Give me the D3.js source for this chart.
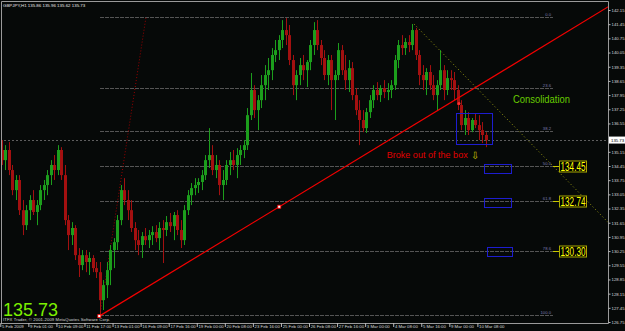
<!DOCTYPE html>
<html>
<head>
<meta charset="utf-8">
<script src="https://cdn.jsdelivr.net/npm/d3@7"></script>
<style>
  html, body { margin: 0; padding: 0; background: #060908; overflow: hidden; }
  text { font-family: "Liberation Sans", Arial, sans-serif; }
</style>
</head>
<body>
<script>
const BAR_HOURS = 4;
const opens = [
  135.24,134.74,135.24,134.25,133.26,133.76,132.27,131.53,132.27,132.77,
  132.18,132.52,133.26,133.51,134.00,134.50,134.25,135.24,134.00,131.78,
  131.04,131.39,130.05,129.56,130.05,129.71,129.91,129.41,129.21,127.83,
  128.57,129.31,130.30,130.69,131.78,133.26,132.77,132.27,131.39,130.79,
  130.55,130.99,130.79,131.04,131.19,130.89,131.39,131.29,131.68,131.48,
  132.03,131.29,130.79,132.27,133.01,133.36,133.51,133.66,134.00,134.74,
  134.99,134.25,134.50,133.51,133.76,134.50,134.74,134.50,134.99,135.24,
  135.48,136.96,138.20,137.21,137.70,138.44,138.94,139.18,139.93,140.17,
  140.67,141.16,140.91,139.68,138.44,138.94,139.43,139.18,139.58,140.42,
  141.16,140.42,139.78,138.94,139.68,138.69,138.94,140.17,139.18,138.69,
  139.28,137.95,137.21,136.72,136.32,137.11,137.70,138.20,137.95,138.30,
  138.10,138.20,138.44,139.68,140.42,140.27,140.57,140.42,141.16,139.93,
  138.94,138.69,139.09,138.44,137.95,138.44,139.18,138.20,138.79,138.69,
  138.20,137.46,136.47,136.82,136.22,136.72,136.47,136.22,135.98
];
const highs = [
  135.73,135.48,135.63,134.50,134.00,134.00,132.77,132.52,133.01,133.26,
  132.77,133.51,133.76,134.25,134.74,134.99,135.48,135.38,134.50,132.03,
  131.68,131.53,130.40,130.30,130.30,130.20,130.05,129.71,129.71,128.82,
  129.71,130.55,130.89,132.03,133.51,133.85,133.26,132.77,131.68,131.29,
  131.19,131.39,131.29,131.48,131.53,131.68,131.78,131.98,132.13,132.18,
  132.27,131.78,132.52,133.26,133.61,133.85,133.85,134.25,134.99,136.32,
  135.48,134.99,134.74,134.25,134.74,135.14,135.24,135.33,135.48,135.73,
  137.31,139.04,138.44,137.95,138.94,139.43,139.78,140.27,140.67,140.91,
  141.65,141.75,141.41,139.93,139.18,139.78,139.93,139.68,140.67,141.55,
  141.65,140.67,140.17,139.93,139.93,139.18,140.52,140.42,139.93,139.68,
  139.58,138.30,137.70,137.21,137.31,137.95,138.44,138.59,138.44,138.69,
  138.54,138.69,139.93,140.67,140.91,140.76,140.91,141.46,141.26,140.17,
  139.43,139.28,139.43,138.94,138.69,140.17,139.43,139.18,139.18,139.09,
  138.44,137.70,137.21,137.11,136.82,137.06,136.96,136.62,136.12
];
const lows = [
  134.50,134.25,134.00,133.01,132.77,132.03,131.04,131.29,131.78,132.03,
  131.53,132.27,132.77,133.01,133.51,133.76,134.00,133.76,131.53,130.30,
  130.55,129.81,128.97,129.31,129.21,129.07,129.21,128.92,127.14,127.34,
  127.93,128.57,129.41,130.30,131.53,132.52,131.78,131.19,130.30,130.05,
  129.91,130.55,130.40,130.55,130.69,130.30,129.66,130.99,131.19,130.79,
  131.04,130.40,130.55,132.03,132.52,133.01,133.12,133.26,133.76,134.35,
  134.00,133.85,133.01,132.77,133.51,134.00,134.25,133.85,134.50,134.84,
  135.24,136.72,136.82,136.22,137.31,137.70,138.20,138.69,139.58,139.68,
  140.27,140.42,139.43,137.95,137.70,138.44,138.69,138.35,139.18,139.93,
  140.17,139.43,138.69,138.44,137.21,136.72,138.69,138.94,138.20,138.10,
  137.70,136.96,135.48,136.12,136.08,136.82,137.31,137.70,137.61,137.80,
  137.70,137.80,138.20,139.28,139.93,139.93,140.07,140.17,139.68,138.44,
  138.20,137.95,138.20,137.70,137.21,138.20,137.70,137.95,138.20,137.70,
  137.21,136.22,135.98,135.98,136.12,136.32,135.73,135.58,135.38
];
const closes = [
  134.74,135.24,134.25,133.26,133.76,132.27,131.53,132.27,132.77,132.18,
  132.52,133.26,133.51,134.00,134.50,134.25,135.24,134.00,131.78,131.04,
  131.39,130.05,129.56,130.05,129.71,129.91,129.41,129.21,127.83,128.57,
  129.31,130.30,130.69,131.78,133.26,132.77,132.27,131.39,130.79,130.55,
  130.99,130.79,131.04,131.19,130.89,131.39,131.29,131.68,131.48,132.03,
  131.29,130.79,132.27,133.01,133.36,133.51,133.66,134.00,134.74,134.99,
  134.25,134.50,133.51,133.76,134.50,134.74,134.50,134.99,135.24,135.48,
  136.96,138.20,137.21,137.70,138.44,138.94,139.18,139.93,140.17,140.67,
  141.16,140.91,139.68,138.44,138.94,139.43,139.18,139.58,140.42,141.16,
  140.42,139.78,138.94,139.68,138.69,138.94,140.17,139.18,138.69,139.28,
  137.95,137.21,136.72,136.32,137.11,137.70,138.20,137.95,138.30,138.10,
  138.20,138.44,139.68,140.42,140.27,140.57,140.42,141.16,139.93,138.94,
  138.69,139.09,138.44,137.95,138.44,139.18,138.20,138.79,138.69,138.20,
  137.46,136.47,136.82,136.22,136.72,136.47,136.22,135.98,135.73
];

// 135.85 is covered by the last price tag, as in the terminal
const priceTicks = [142.15,141.45,140.75,140.05,139.35,138.65,137.95,137.25,136.55,
  135.15,134.45,133.75,133.05,132.35,131.65,130.95,130.25,129.55,128.85,128.15,127.45,126.75];
const timeHours = [0,32,64,96,128,160,192,224,256,288,320,352,384,416,448,480,512,544];
const timeLabels = ["5 Feb 2009","9 Feb 01:00","10 Feb 09:00","11 Feb 17:00","13 Feb 01:00",
  "16 Feb 09:00","17 Feb 16:00","19 Feb 00:00","20 Feb 08:00","23 Feb 16:00","25 Feb 00:00",
  "26 Feb 08:00","27 Feb 16:00","3 Mar 00:00","4 Mar 08:00","5 Mar 16:00","9 Mar 00:00","10 Mar 08:00"];

const lastPrice = 135.73;
const header = "GBPJPY,H1  135.86 135.96 135.62 135.73";
const copyright = "ITFX Trader, \u00a9 2001-2009 MetaQuotes Software Corp.";

// fibonacci retracement
const fibLevels = ["0.0","23.6","38.2","50.0","61.8","78.6","100.0"];
const fibPrices = [141.79,138.32,136.17,134.43,132.70,130.24,127.08];
const fibSpan = [113.7, 630.2];            // hours
const fibDiagHours = [113.7, 166.1];
const fibDiagPrices = [127.08, 141.79];
const tagValues = ["134.45","132.74","130.30"];
const tagPrices = [134.43,132.70,130.24];

// trend lines
const trendHours = [112.9, 318.1];
const trendPrices = [127.04, 132.44];
const resistHours = [471.7, 569.8];
const resistPrices = [141.46, 137.12];
const breakPoint = [523, 137.53];

// boxes [hour0, hour1, priceTop, priceBottom]
const boxes = [
  [519.3, 559.9, 137.05, 135.50],
  [551.9, 583.1, 134.54, 134.12],
  [551.9, 583.1, 132.88, 132.46],
  [555.0, 583.1, 130.45, 130.02]
];

const notes = [
  {text: "Consolidation", h: 584.6, p: 137.56, color: "#66cc00", size: 10.5, len: 57},
  {text: "Broke out of the box", h: 440.6, p: 134.84, color: "#e00000", size: 9.5, len: 81}
];

const W = 625, H = 331;
const R = 608, B = 323;

const x = d3.scaleLinear().domain([0, 544]).range([0.3, 477.4]);
const y = d3.scaleLinear().domain([126.75, 142.15]).range([322, 10]);

const svg = d3.select("body").append("svg").attr("width", W).attr("height", H);
svg.append("rect").attr("width", W).attr("height", H).attr("fill", "#060908");

svg.append("clipPath").attr("id", "plot")
  .append("rect").attr("x", 1).attr("y", 1).attr("width", R - 1).attr("height", B - 1);
const g = svg.append("g").attr("clip-path", "url(#plot)");

// current price line
g.append("line")
  .attr("x1", 0).attr("x2", R)
  .attr("y1", Math.round(y(lastPrice)) + 0.5).attr("y2", Math.round(y(lastPrice)) + 0.5)
  .attr("stroke", "#5e5e5e").attr("stroke-dasharray", "2,2");

// fib levels
const fibG = g.append("g");
fibPrices.forEach((p, i) => {
  const yy = Math.round(y(p)) + 0.5;
  fibG.append("line")
    .attr("x1", x(fibSpan[0])).attr("x2", x(fibSpan[1]))
    .attr("y1", yy).attr("y2", yy)
    .attr("stroke", "#555").attr("stroke-dasharray", "4,1");
  fibG.append("text")
    .attr("x", x(fibSpan[1]) - 2).attr("y", yy - 1.5)
    .attr("text-anchor", "end").attr("font-size", 4.2)
    .attr("fill", "#7b7bb0").text(fibLevels[i]);
});
fibG.append("line")
  .attr("x1", x(fibDiagHours[0])).attr("y1", y(fibDiagPrices[0]))
  .attr("x2", x(fibDiagHours[1])).attr("y2", y(fibDiagPrices[1]))
  .attr("stroke", "#9a0000").attr("stroke-dasharray", "1,2");

// candles
const bars = closes.map((c, i) => ({
  h: i * BAR_HOURS + 1.5, o: opens[i], hi: highs[i], lo: lows[i], c: c
}));
const bull = "#1c9e1c", bear = "#a31010";
g.append("g").selectAll("line").data(bars).join("line")
  .attr("x1", d => Math.round(x(d.h)) + 0.5).attr("x2", d => Math.round(x(d.h)) + 0.5)
  .attr("y1", d => y(d.hi)).attr("y2", d => y(d.lo))
  .attr("stroke", d => d.c >= d.o ? bull : bear);
g.append("g").selectAll("rect").data(bars).join("rect")
  .attr("x", d => Math.round(x(d.h)) - 1)
  .attr("width", 3)
  .attr("y", d => y(Math.max(d.o, d.c)))
  .attr("height", d => Math.max(1, Math.abs(y(d.o) - y(d.c))))
  .attr("fill", d => d.c >= d.o ? bull : bear);

// boxes
g.append("g").selectAll("rect").data(boxes).join("rect")
  .attr("x", d => Math.round(x(d[0])) + 0.5)
  .attr("y", d => Math.round(y(d[2])) + 0.5)
  .attr("width", d => Math.round(x(d[1]) - x(d[0])))
  .attr("height", d => Math.round(y(d[3]) - y(d[2])))
  .attr("fill", "none").attr("stroke", "#1d1dd0");

// ray helper: extend a line through two points to the right edge
function ray(hs, ps) {
  const slope = (ps[1] - ps[0]) / (hs[1] - hs[0]);
  const hEnd = x.invert(R + 20);
  return [[x(hs[0]), y(ps[0])], [x(hEnd), y(ps[0] + slope * (hEnd - hs[0]))]];
}

const tr = ray(trendHours, trendPrices);
g.append("line")
  .attr("x1", tr[0][0]).attr("y1", tr[0][1]).attr("x2", tr[1][0]).attr("y2", tr[1][1])
  .attr("stroke", "#f20000").attr("stroke-width", 1.2);

const rs = ray(resistHours, resistPrices);
g.append("line")
  .attr("x1", rs[0][0]).attr("y1", rs[0][1]).attr("x2", rs[1][0]).attr("y2", rs[1][1])
  .attr("stroke", "#9a9a10").attr("stroke-dasharray", "1,2.5");

// anchor markers
trendHours.forEach((h, i) => {
  g.append("rect")
    .attr("x", x(h) - 1.5).attr("y", y(trendPrices[i]) - 1.5)
    .attr("width", 3).attr("height", 3)
    .attr("fill", "#ffffff").attr("stroke", "#ff0000").attr("stroke-width", 0.8);
});
g.append("circle")
  .attr("cx", x(breakPoint[0])).attr("cy", y(breakPoint[1])).attr("r", 1.5)
  .attr("fill", "#ff3030");

// price tags on the fib levels
tagValues.forEach((v, i) => {
  const yy = Math.round(y(tagPrices[i])) + 0.5;
  const x0 = x(fibSpan[1]);
  svg.append("line").attr("x1", x0).attr("x2", x0 + 6).attr("y1", yy).attr("y2", yy)
    .attr("stroke", "#c8c800");
  svg.append("rect").attr("x", x0 + 6.5).attr("y", yy - 5.5).attr("width", 27).attr("height", 11)
    .attr("fill", "#000").attr("stroke", "#a8a800");
  svg.append("text").attr("x", x0 + 7.5).attr("y", yy + 4.3)
    .attr("font-size", 12).attr("textLength", 25).attr("lengthAdjust", "spacingAndGlyphs")
    .attr("fill", "#ffff00").text(v);
});

// notes
notes.forEach(n => {
  svg.append("text").attr("x", x(n.h)).attr("y", y(n.p))
    .attr("font-size", n.size).attr("textLength", n.len).attr("lengthAdjust", "spacingAndGlyphs")
    .attr("fill", n.color).text(n.text);
});
svg.append("text").attr("x", x(537)).attr("y", y(134.84) + 0.5)
  .attr("font-family", "DejaVu Sans").attr("font-size", 10)
  .attr("fill", "#c8c400").text("\u21e9");

// frame
svg.append("path")
  .attr("d", `M1.5,${B}V1.5H${R + 0.5}V${B + 0.5}H1`)
  .attr("fill", "none").attr("stroke", "#9a9a9a");

// price axis
const yAxis = d3.axisRight(y).tickValues(priceTicks).tickFormat(d3.format(".2f"))
  .tickSize(2).tickPadding(1);
const ya = svg.append("g").attr("transform", `translate(${R + 0.5},0)`).call(yAxis);
ya.select(".domain").remove();
ya.selectAll("line").attr("stroke", "#bbb");
ya.selectAll("text").attr("font-size", 4.3).attr("fill", "#d8d8d8")
  .attr("font-family", "Liberation Sans, Arial, sans-serif");

// last price tag on the axis
svg.append("rect").attr("x", R + 1).attr("y", y(lastPrice) - 3.5).attr("width", 16).attr("height", 7)
  .attr("fill", "#ffffff");
svg.append("text").attr("x", R + 3).attr("y", y(lastPrice) + 1.6)
  .attr("font-size", 4.3).attr("fill", "#000").text(lastPrice.toFixed(2));

// time axis
const xAxis = d3.axisBottom(x).tickValues(timeHours).tickFormat((d, i) => timeLabels[i])
  .tickSize(4).tickPadding(0);
const xa = svg.append("g").attr("transform", `translate(0,${B})`).call(xAxis);
xa.select(".domain").remove();
xa.selectAll("line").attr("stroke", "#bbb");
xa.selectAll("text").attr("text-anchor", "start").attr("x", 1.2).attr("y", 2.4)
  .attr("font-size", 4.3).attr("fill", "#d8d8d8")
  .attr("font-family", "Liberation Sans, Arial, sans-serif");

// header, copyright, big price
svg.append("text").attr("x", 3).attr("y", 7).attr("font-size", 4.4)
  .attr("fill", "#e6e6e6").text(header);
svg.append("text").attr("x", 3).attr("y", 321.3).attr("font-size", 4.2)
  .attr("textLength", 107).attr("fill", "#d8d8d8").text(copyright);
svg.append("text").attr("x", 3).attr("y", 316.2).attr("font-size", 19)
  .attr("textLength", 55).attr("lengthAdjust", "spacingAndGlyphs")
  .attr("fill", "#7cf000").text(lastPrice.toFixed(2));
</script>
</body>
</html>
